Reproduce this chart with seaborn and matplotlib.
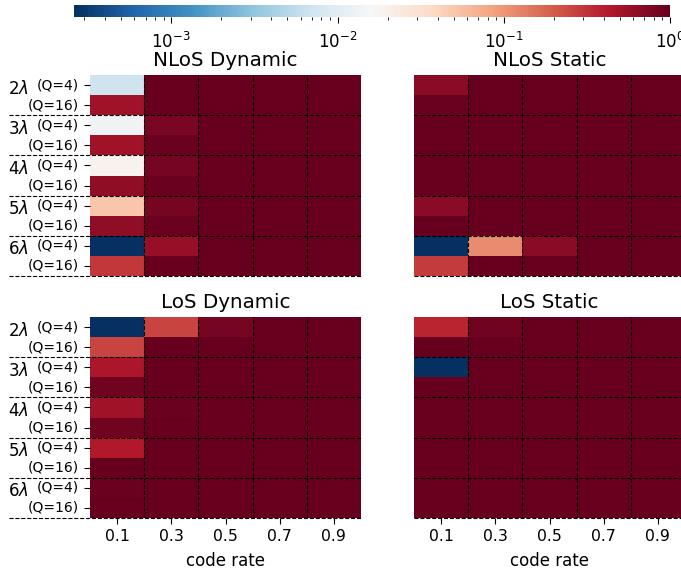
import numpy as np
import pandas as pd
import matplotlib
matplotlib.use("Agg")
import matplotlib.pyplot as plt
import seaborn as sns
from matplotlib.colors import LogNorm
from matplotlib.cm import ScalarMappable

code_rates = ["0.1", "0.3", "0.5", "0.7", "0.9"]
spacings = ["2", "3", "4", "5", "6"]
row_labels = ["(Q=4)", "(Q=16)"] * 5

# rows: 2λ Q4, 2λ Q16, 3λ Q4, 3λ Q16, ... 6λ Q16 ; columns: code rates
nlos_dynamic = [
    [0.0069, 0.97, 1.0, 1.0, 1.0],
    [0.54, 0.98, 1.0, 1.0, 1.0],
    [0.0135, 0.80, 1.0, 1.0, 1.0],
    [0.54, 0.96, 1.0, 1.0, 1.0],
    [0.0186, 0.85, 1.0, 1.0, 1.0],
    [0.62, 0.96, 1.0, 1.0, 1.0],
    [0.05, 0.85, 1.0, 1.0, 1.0],
    [0.62, 0.96, 1.0, 1.0, 1.0],
    [0.00026, 0.58, 1.0, 1.0, 1.0],
    [0.30, 0.98, 1.0, 1.0, 1.0],
]
nlos_static = [
    [0.67, 1.0, 1.0, 1.0, 1.0],
    [0.95, 1.0, 1.0, 1.0, 1.0],
    [1.0, 1.0, 1.0, 1.0, 1.0],
    [1.0, 1.0, 1.0, 1.0, 1.0],
    [1.0, 1.0, 1.0, 1.0, 1.0],
    [1.0, 1.0, 1.0, 1.0, 1.0],
    [0.67, 1.0, 1.0, 1.0, 1.0],
    [0.97, 1.0, 1.0, 1.0, 1.0],
    [0.00026, 0.115, 0.67, 1.0, 1.0],
    [0.29, 1.0, 1.0, 1.0, 1.0],
]
los_dynamic = [
    [0.00026, 0.26, 0.83, 1.0, 1.0],
    [0.26, 1.0, 0.98, 1.0, 1.0],
    [0.47, 1.0, 1.0, 1.0, 1.0],
    [0.88, 1.0, 1.0, 1.0, 1.0],
    [0.53, 0.94, 1.0, 1.0, 1.0],
    [0.88, 0.98, 1.0, 1.0, 1.0],
    [0.44, 1.0, 1.0, 1.0, 1.0],
    [0.97, 1.0, 1.0, 1.0, 1.0],
    [0.95, 1.0, 1.0, 1.0, 1.0],
    [0.97, 1.0, 1.0, 1.0, 1.0],
]
los_static = [
    [0.38, 0.90, 1.0, 1.0, 1.0],
    [0.98, 1.0, 1.0, 1.0, 1.0],
    [0.00026, 1.0, 1.0, 1.0, 1.0],
    [1.0, 1.0, 1.0, 1.0, 1.0],
    [1.0, 1.0, 1.0, 1.0, 1.0],
    [1.0, 1.0, 1.0, 1.0, 1.0],
    [1.0, 1.0, 1.0, 1.0, 1.0],
    [1.0, 1.0, 1.0, 1.0, 1.0],
    [1.0, 1.0, 1.0, 1.0, 1.0],
    [1.0, 1.0, 1.0, 1.0, 1.0],
]
titles = ["NLoS Dynamic", "NLoS Static", "LoS Dynamic", "LoS Static"]

VMIN, VMAX = 0.00026, 1.0
norm = LogNorm(vmin=VMIN, vmax=VMAX)
cmap = "RdBu_r"

W, H = 681, 574
fig = plt.figure(figsize=(W / 100, H / 100), dpi=100)


def ax_at(x0, y0, x1, y1):
    return fig.add_axes([x0 / W, 1 - y1 / H, (x1 - x0) / W, (y1 - y0) / H])


boxes = [(90, 75, 361, 276), (414, 75, 685, 276),
         (90, 317, 361, 518), (414, 317, 685, 518)]
datas = [nlos_dynamic, nlos_static, los_dynamic, los_static]

for i, (box, data, title) in enumerate(zip(boxes, datas, titles)):
    ax = ax_at(*box)
    df = pd.DataFrame(np.array(data), columns=code_rates)
    left = i % 2 == 0
    bottom = i >= 2
    sns.heatmap(df, ax=ax, cmap=cmap, norm=norm, cbar=False,
                xticklabels=code_rates if bottom else False,
                yticklabels=row_labels if left else False)
    ax.set_title(title, fontsize=14.3, pad=6.5)
    ax.tick_params(length=4.5)
    if left:
        ax.set_yticklabels(row_labels, rotation=0, fontsize=10)
        for k, s in enumerate(spacings):
            ax.text(-1.51, 2 * k + 0.68, s + r"$\lambda$", fontsize=12,
                    ha="left", va="center")
    if bottom:
        ax.set_xticklabels(code_rates, rotation=0, fontsize=11.3)
        ax.set_xlabel("code rate", fontsize=12, labelpad=6)
    else:
        ax.set_xlabel("")
    ax.set_ylabel("")
    for xv in range(1, 5):
        ax.axvline(xv, color="k", linestyle="--", linewidth=0.8)
    for yv in range(2, 11, 2):
        ax.axhline(yv, xmin=-0.3 if left else 0, xmax=1, color="k",
                   linestyle="--", linewidth=0.8, clip_on=False)

cax = ax_at(74, 5, 670, 17)
sm = ScalarMappable(norm=norm, cmap=cmap)
cb = fig.colorbar(sm, cax=cax, orientation="horizontal")
cb.outline.set_visible(False)
cb.ax.tick_params(which="major", labelsize=12, length=4.5, pad=6)
cb.ax.tick_params(which="minor", length=2.2)

fig.savefig("out.png", dpi=100)
